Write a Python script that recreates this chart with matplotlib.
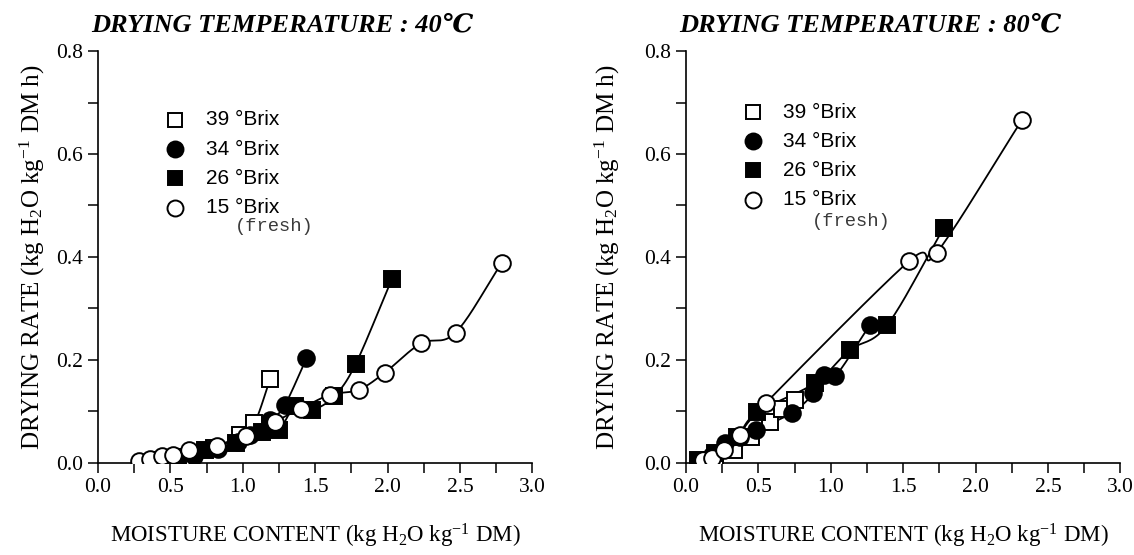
import numpy as np
import matplotlib.pyplot as plt
from matplotlib.ticker import MultipleLocator, FormatStrFormatter

# ---- data (moisture content, drying rate)
moist_40_b39 = [0.45, 0.62, 0.80, 0.98, 1.08, 1.19]
rate_40_b39 = [0.005, 0.012, 0.028, 0.055, 0.077, 0.163]
moist_40_b34 = [0.50, 0.66, 0.83, 0.97, 1.05, 1.19, 1.29, 1.44]
rate_40_b34 = [0.006, 0.014, 0.026, 0.040, 0.055, 0.083, 0.112, 0.203]
moist_40_b26 = [0.55, 0.74, 0.95, 1.13, 1.25, 1.36, 1.48, 1.63, 1.78, 2.03]
rate_40_b26 = [0.008, 0.025, 0.038, 0.060, 0.064, 0.110, 0.103, 0.129, 0.192, 0.357]
moist_40_b15 = [0.28, 0.36, 0.44, 0.52, 0.63, 0.82, 1.02, 1.22, 1.40, 1.60, 1.80, 1.98, 2.23, 2.47, 2.79]
rate_40_b15 = [0.004, 0.008, 0.014, 0.015, 0.025, 0.032, 0.052, 0.080, 0.105, 0.132, 0.142, 0.175, 0.232, 0.253, 0.389]

moist_80_b39 = [0.12, 0.20, 0.33, 0.45, 0.58, 0.66, 0.75]
rate_80_b39 = [0.003, 0.010, 0.025, 0.050, 0.080, 0.105, 0.122]
moist_80_b34 = [0.10, 0.18, 0.27, 0.37, 0.48, 0.73, 0.88, 0.95, 1.03, 1.27]
rate_80_b34 = [0.004, 0.015, 0.038, 0.050, 0.064, 0.097, 0.135, 0.171, 0.168, 0.268]
moist_80_b26 = [0.08, 0.20, 0.35, 0.49, 0.89, 1.13, 1.39, 1.78]
rate_80_b26 = [0.005, 0.020, 0.050, 0.098, 0.155, 0.219, 0.268, 0.457]
moist_80_b15 = [0.12, 0.18, 0.26, 0.37, 0.55, 1.54, 1.73, 2.32]
rate_80_b15 = [0.005, 0.010, 0.025, 0.054, 0.116, 0.392, 0.408, 0.666]

series_labels = ["39 °Brix", "34 °Brix", "26 °Brix", "15 °Brix"]
titles = ["DRYING TEMPERATURE : 40℃", "DRYING TEMPERATURE : 80℃"]

SERIF = ['Liberation Serif', 'DejaVu Serif']
plt.rcParams['font.family'] = SERIF
plt.rcParams['mathtext.fontset'] = 'custom'
plt.rcParams['mathtext.rm'] = 'Liberation Serif'
plt.rcParams['mathtext.it'] = 'Liberation Serif:italic'

# marker styles: (marker, filled)
styles = [("s", False), ("o", True), ("s", True), ("o", False)]


def smooth(x, y, n=20):
    """Catmull-Rom curve through the points, just for the drawn line."""
    p = np.column_stack([x, y]).astype(float)
    p = np.vstack([2 * p[0] - p[1], p, 2 * p[-1] - p[-2]])
    out = []
    t = np.linspace(0, 1, n, endpoint=False)[:, None]
    for i in range(1, len(p) - 2):
        p0, p1, p2, p3 = p[i - 1], p[i], p[i + 1], p[i + 2]
        seg = 0.5 * ((2 * p1) + (-p0 + p2) * t + (2 * p0 - 5 * p1 + 4 * p2 - p3) * t ** 2
                     + (-p0 + 3 * p1 - 3 * p2 + p3) * t ** 3)
        out.append(seg)
    out.append(p[-2][None, :])
    out = np.vstack(out)
    return out[:, 0], out[:, 1]


def draw_panel(ax, data, title, legend_pos, ylabelpad):
    for (xs, ys), (mk, filled) in zip(data, styles):
        sx, sy = smooth(xs, ys)
        ax.plot(sx, sy, color="black", lw=1.3, zorder=2)
    for (xs, ys), (mk, filled) in zip(data, styles):
        ax.plot(xs, ys, linestyle="none", marker=mk, ms=12 if mk == "o" else 11,
                mfc="black" if filled else "white", mec="black", mew=1.4, zorder=3)

    ax.set_xlim(0, 3.0)
    ax.set_ylim(0, 0.8)
    ax.spines['top'].set_visible(False)
    ax.spines['right'].set_visible(False)
    ax.spines['left'].set_linewidth(1.2)
    ax.spines['bottom'].set_linewidth(1.2)
    ax.xaxis.set_major_locator(MultipleLocator(0.5))
    ax.xaxis.set_minor_locator(MultipleLocator(0.25))
    ax.yaxis.set_major_locator(MultipleLocator(0.2))
    ax.yaxis.set_minor_locator(MultipleLocator(0.1))
    ax.xaxis.set_major_formatter(FormatStrFormatter('%.1f'))
    ax.yaxis.set_major_formatter(FormatStrFormatter('%.1f'))
    ax.tick_params(which="both", direction="out", length=7, width=1.1)
    ax.tick_params(which="major", labelsize=15.5, pad=4)

    ax.set_ylabel("DRYING RATE (kg H$_2$O kg$^{-1}$ DM h)", fontsize=18, labelpad=ylabelpad)
    ax.set_xlabel("MOISTURE CONTENT (kg H$_2$O kg$^{-1}$ DM)", fontsize=16.5, labelpad=18)
    ax.text(-0.015, 1.063, title, transform=ax.transAxes, fontsize=19,
            fontweight="bold", fontstyle="italic", ha="left", va="center")

    mx, tx, fx, y0, dy, fy = legend_pos
    for i, ((mk, filled), lab) in enumerate(zip(styles, series_labels)):
        yy = y0 - i * dy
        ax.plot([mx], [yy], transform=ax.transAxes, linestyle="none", marker=mk,
                ms=11.5 if mk == "o" else 10.5, mfc="black" if filled else "white",
                mec="black", mew=1.4, clip_on=False)
        ax.text(tx, yy, lab, transform=ax.transAxes, fontsize=15,
                family=['Liberation Sans', 'DejaVu Sans'], ha="left", va="center")
    ax.text(fx, fy, "(fresh)", transform=ax.transAxes, fontsize=13.5,
            family=['Liberation Mono', 'DejaVu Sans Mono'], color="#3a3a3a", ha="left", va="center")


fig = plt.figure(figsize=(11.34, 5.55), dpi=100)
ax1 = fig.add_axes([0.0864, 0.166, 0.383, 0.742])
ax2 = fig.add_axes([0.605, 0.166, 0.383, 0.742])

data40 = [(moist_40_b39, rate_40_b39), (moist_40_b34, rate_40_b34),
          (moist_40_b26, rate_40_b26), (moist_40_b15, rate_40_b15)]
data80 = [(moist_80_b39, rate_80_b39), (moist_80_b34, rate_80_b34),
          (moist_80_b26, rate_80_b26), (moist_80_b15, rate_80_b15)]

draw_panel(ax1, data40, titles[0], (0.177, 0.249, 0.316, 0.833, 0.071, 0.573), 6)
draw_panel(ax2, data80, titles[1], (0.154, 0.224, 0.29, 0.852, 0.071, 0.585), 16)

fig.savefig("out.png", dpi=100)
